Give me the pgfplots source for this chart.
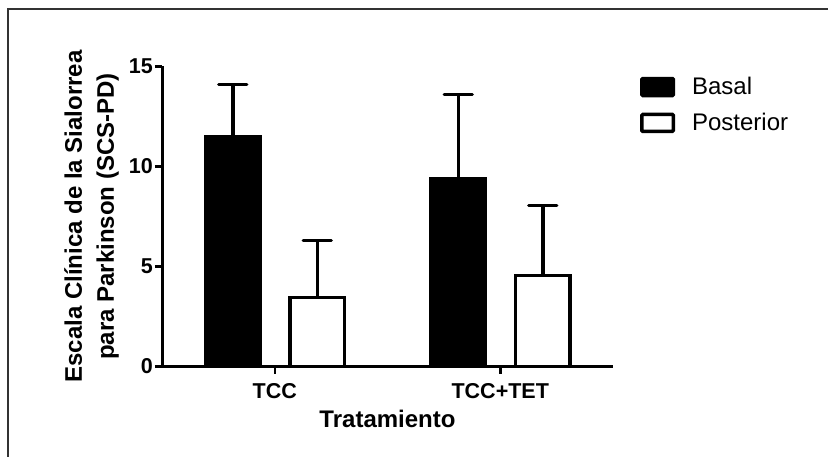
\documentclass[border=0pt]{standalone}
\usepackage{fontspec}
\setmainfont{Liberation Sans}
\usepackage{pgfplots}
\pgfplotsset{compat=1.18}

\begin{document}
\begin{tikzpicture}
\useasboundingbox (0,0) rectangle (828bp,457bp);
\draw[line width=2bp, black!80] (7.5bp,0) -- (7.5bp,447.5bp) -- (828bp,447.5bp);
\begin{axis}[
    at={(162bp,90.5bp)}, anchor=south west,
    scale only axis, width=451bp, height=300bp,
    xmin=-0.5, xmax=1.5, ymin=0, ymax=15,
    axis x line*=bottom, axis y line*=left,
    axis line style={line width=3bp, black},
    xtick={0,1}, xticklabels={TCC, TCC+TET},
    ytick={0,5,10,15},
    tick align=outside, major tick length=7bp,
    tick style={line width=2.5bp, black},
    /pgf/number format/assume math mode=true,
    yticklabel style={font=\fontsize{21.5bp}{26bp}\selectfont\bfseries, inner sep=0pt, anchor=east, xshift=-2bp},
    xticklabel style={font=\fontsize{21.5bp}{26bp}\selectfont\bfseries, inner sep=0pt, anchor=north, yshift=-10bp},
    xlabel={Tratamiento},
    xlabel style={font=\fontsize{24bp}{29bp}\selectfont\bfseries, inner sep=0pt,
        at={(axis description cs:0.5,0)}, anchor=north, yshift=-43.5bp},
    ylabel={Escala Clínica de la Sialorrea\\para Parkinson (SCS-PD)},
    ylabel style={font=\fontsize{24bp}{32bp}\selectfont\bfseries, align=center,
        inner sep=0pt, at={(axis description cs:-0.0953,0.5)}, anchor=south},
    ybar, bar width=54.5bp,
    legend style={draw=none, fill=none, at={(rel axis cs:1.053,0.977)}, anchor=north west,
        font=\fontsize{24bp}{29bp}\selectfont, cells={anchor=west}, row sep=13bp,
        /tikz/every odd column/.append style={column sep=15bp}},
    legend image code/.code={\draw[#1, line width=3.5bp, rounded corners=1bp] (0bp,-8.5bp) rectangle (31.5bp,8.5bp);},
    error bars/y dir=plus, error bars/y explicit,
    error bars/error mark=|,
    error bars/error bar style={line width=3.5bp, black},
    error bars/error mark options={line width=3.5bp, line cap=round, mark size=14bp, black},
]
\addplot[draw=black, fill=black, line width=3.5bp, bar shift=-42bp] coordinates {
    (0, 11.5) +- (0, 2.6)
    (1, 9.4) +- (0, 4.2)
};
\addlegendentry{Basal}
\addplot[draw=black, fill=white, line width=3.5bp, bar shift=42.5bp] coordinates {
    (0, 3.45) +- (0, 2.85)
    (1, 4.55) +- (0, 3.5)
};
\addlegendentry{Posterior}
\end{axis}
\end{tikzpicture}
\end{document}
